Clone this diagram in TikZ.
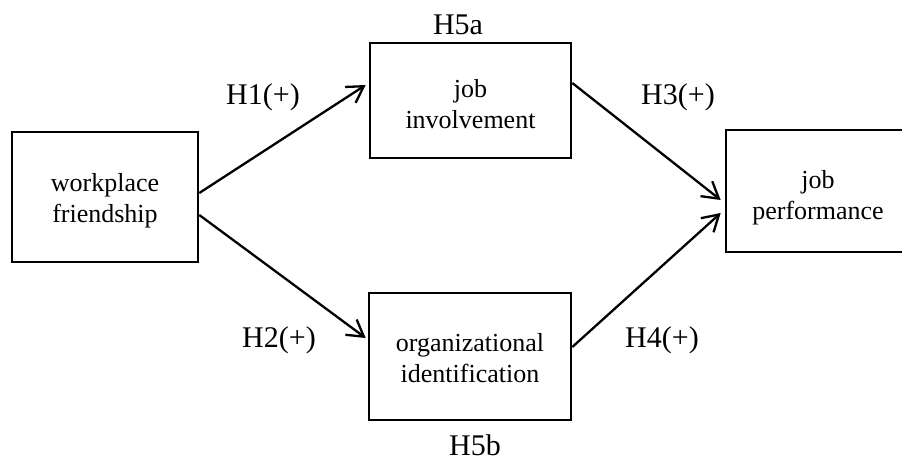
\documentclass[tikz,border=0pt]{standalone}
\usepackage{fontspec}
\setmainfont{Liberation Serif}
\usetikzlibrary{arrows.meta}
\begin{document}
\begin{tikzpicture}[x=1pt,y=-1pt,
  box/.style={draw, line width=2.6pt, inner sep=0pt},
  boxtext/.style={inner sep=0pt, align=center, font=\fontsize{26}{31}\selectfont},
  hyp/.style={inner sep=0pt, anchor=base, font=\fontsize{30}{36}\selectfont},
  link/.style={line width=2.3pt, -{Straight Barb[length=16pt,width=19pt,line width=2.3pt]}}]
\useasboundingbox (0,0) rectangle (902,460);
\begin{scope}
\clip (0,0) rectangle (902,460);
\node[box, minimum width=186pt, minimum height=130pt] (A) at (105,197) {};
\node[box, minimum width=201pt, minimum height=115pt] (B) at (470.5,100.5) {};
\node[box, minimum width=202pt, minimum height=127pt] (C) at (470,356.5) {};
\node[box, minimum width=184pt, minimum height=122pt] (D) at (818,191) {};
\end{scope}
\node[boxtext] (At) at ([yshift=-4pt]A.center) {workplace\\friendship};
\node[boxtext] (Bt) at ([yshift=-4pt]B.center) {job\\involvement};
\node[boxtext] (Ct) at ([yshift=-2pt]C.center) {organizational\\identification};
\node[boxtext] (Dt) at ([yshift=-7pt]D.center) {job\\performance};
\draw[link] ([yshift=4pt]A.east) -- ([yshift=15.5pt,xshift=-3pt]B.west);
\draw[link] ([yshift=-18pt]A.east) -- ([yshift=18.5pt,xshift=-2pt]C.west);
\draw[link] ([yshift=17.5pt]B.east) -- ([yshift=-9pt,xshift=-4pt]D.west);
\draw[link] ([yshift=9.5pt]C.east) -- ([yshift=-22pt,xshift=-4pt]D.west);
\node[hyp] (h1) at (263,104) {H1(+)};
\node[hyp] (h2) at (279,347) {H2(+)};
\node[hyp] (h3) at (678,104) {H3(+)};
\node[hyp] (h4) at (662,347) {H4(+)};
\node[hyp] (h5a) at (458,35) {H5a};
\node[hyp] (h5b) at (475,455) {H5b};
\end{tikzpicture}
\end{document}
